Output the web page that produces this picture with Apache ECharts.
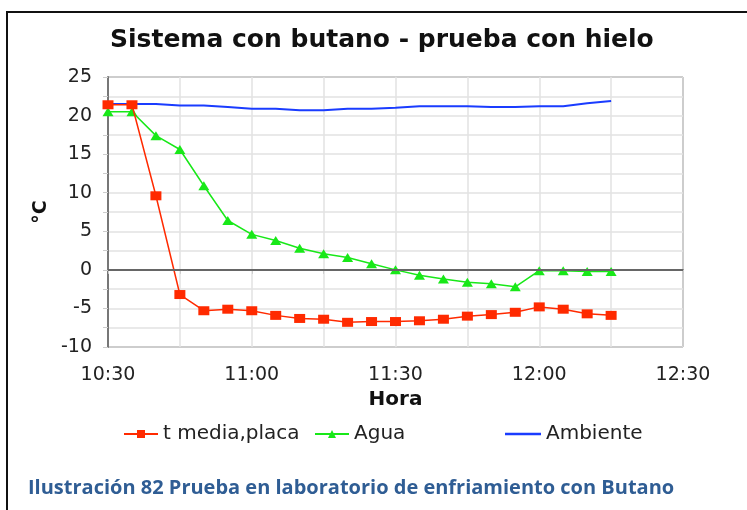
<!DOCTYPE html>
<html>
<head>
<meta charset="utf-8">
<script src="https://cdn.jsdelivr.net/npm/echarts@6/dist/echarts.min.js"></script>
<style>
  html, body { margin: 0; padding: 0; background: #fff; }
  #chart { width: 747px; height: 510px; }
</style>
</head>
<body>
<div id="chart"></div>
<script>
// Sampling times (every 5 minutes)
var times = ['10:30','10:35','10:40','10:45','10:50','10:55','11:00','11:05','11:10','11:15','11:20',
             '11:25','11:30','11:35','11:40','11:45','11:50','11:55','12:00','12:05','12:10','12:15'];
// Plate mean temperature (°C)
var tMediaPlaca = [21.4, 21.4, 9.6, -3.2, -5.3, -5.1, -5.3, -5.9, -6.3, -6.4, -6.8,
                   -6.7, -6.7, -6.6, -6.4, -6.0, -5.8, -5.5, -4.8, -5.1, -5.7, -5.9];
// Water temperature (°C)
var agua = [20.5, 20.5, 17.4, 15.6, 10.9, 6.4, 4.6, 3.8, 2.8, 2.1, 1.6,
            0.8, 0.0, -0.7, -1.2, -1.6, -1.8, -2.2, -0.1, -0.1, -0.2, -0.2];
// Ambient temperature (°C)
var ambiente = [21.5, 21.5, 21.5, 21.3, 21.3, 21.1, 20.9, 20.9, 20.7, 20.7, 20.9,
                20.9, 21.0, 21.2, 21.2, 21.2, 21.1, 21.1, 21.2, 21.2, 21.6, 21.9];
var seriesNames = ['t media,placa', 'Agua', 'Ambiente'];

function toMinutes(t) {
  var p = t.split(':');
  return parseInt(p[0], 10) * 60 + parseInt(p[1], 10);
}
function pad(n) { return (n < 10 ? '0' : '') + n; }
function pairs(values) {
  return values.map(function (v, i) { return [toMinutes(times[i]), v]; });
}

var FONT = 'DejaVu Sans';
var RED = '#ff2a00', GREEN = '#18e818', BLUE = '#1a3cff';
var chart = echarts.init(document.getElementById('chart'), null, { renderer: 'canvas' });

var legendBase = {
  top: 419,
  itemWidth: 34,
  itemHeight: 10,
  itemGap: 0,
  textStyle: { fontFamily: FONT, fontSize: 20, color: '#222' },
  selectedMode: false
};

chart.setOption({
  animation: false,
  backgroundColor: '#fff',
  title: [{
    text: 'Sistema con butano - prueba con hielo',
    left: 105,
    top: 23,
    textStyle: { fontFamily: FONT, fontSize: 25, fontWeight: 'bold', color: '#111' }
  }, {
    text: 'Ilustración 82 Prueba en laboratorio de enfriamiento con Butano',
    left: 23,
    top: 473,
    textStyle: { fontFamily: 'Open Sans', fontSize: 20, fontWeight: 'bold', color: '#2f5d94' }
  }],
  graphic: [{
    type: 'rect',
    shape: { x: 7, y: 12, width: 800, height: 600 },
    style: { fill: 'none', stroke: '#111', lineWidth: 2 },
    silent: true
  }],
  legend: [
    Object.assign({}, legendBase, { left: 118, data: [seriesNames[0]] }),
    Object.assign({}, legendBase, { left: 309, data: [seriesNames[1]] }),
    Object.assign({}, legendBase, { left: 500, itemWidth: 36, itemHeight: 2.5,
                                    data: [{ name: seriesNames[2], icon: 'rect' }] })
  ],
  grid: {
    left: 108, top: 77, right: 64, bottom: 163,
    show: true, borderColor: '#222', borderWidth: 1, backgroundColor: 'transparent'
  },
  xAxis: {
    type: 'value',
    min: 630, max: 750, interval: 15,
    name: 'Hora',
    nameLocation: 'middle',
    nameGap: 42,
    nameTextStyle: { fontFamily: FONT, fontSize: 20, fontWeight: 'bold', color: '#111' },
    axisLine: { show: true, lineStyle: { color: '#777', width: 2 } },
    axisTick: { show: true, length: 4, lineStyle: { color: '#ccc' } },
    axisLabel: {
      fontFamily: FONT, fontSize: 19, color: '#222', margin: 19,
      formatter: function (v) {
        if (v % 30 !== 0) return '';
        return Math.floor(v / 60) + ':' + pad(v % 60);
      }
    },
    splitLine: { show: true, lineStyle: { color: '#e2e2e2', width: 1.5 } }
  },
  yAxis: {
    type: 'value',
    min: -10, max: 25, interval: 5,
    name: '°C',
    nameLocation: 'middle',
    nameGap: 56,
    nameTextStyle: { fontFamily: FONT, fontSize: 19, fontWeight: 'bold', color: '#111' },
    axisLine: { show: true, lineStyle: { color: '#777', width: 2 } },
    axisTick: { show: true, length: 5, lineStyle: { color: '#ccc' } },
    minorTick: { show: true, splitNumber: 2, length: 5, lineStyle: { color: '#ccc' } },
    axisLabel: { fontFamily: FONT, fontSize: 19, color: '#222', margin: 16 },
    splitLine: { show: true, lineStyle: { color: '#e2e2e2', width: 1.5 } },
    minorSplitLine: { show: true, lineStyle: { color: '#e2e2e2', width: 1.5 } }
  },
  series: [{
    name: seriesNames[0],
    type: 'line',
    data: pairs(tMediaPlaca),
    symbol: 'rect',
    symbolSize: [11, 9],
    z: 4,
    itemStyle: { color: RED },
    lineStyle: { color: RED, width: 1.5 },
    markLine: {
      silent: true,
      symbol: 'none',
      label: { show: false },
      lineStyle: { color: '#666', width: 2, type: 'solid' },
      data: [{ yAxis: 0 }]
    }
  }, {
    name: seriesNames[1],
    type: 'line',
    data: pairs(agua),
    symbol: 'triangle',
    symbolSize: [11, 9],
    z: 3,
    itemStyle: { color: GREEN },
    lineStyle: { color: GREEN, width: 1.5 }
  }, {
    name: seriesNames[2],
    type: 'line',
    data: pairs(ambiente),
    symbol: 'none',
    z: 2,
    itemStyle: { color: BLUE },
    lineStyle: { color: BLUE, width: 2 }
  }]
});
</script>
</body>
</html>
